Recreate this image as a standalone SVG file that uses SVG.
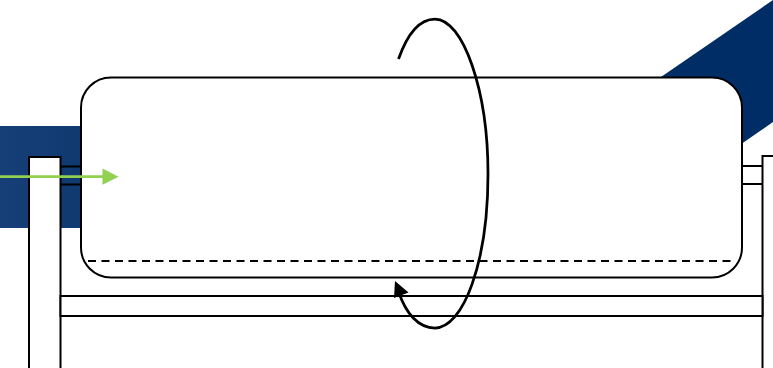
<svg xmlns="http://www.w3.org/2000/svg" width="773" height="368" viewBox="0 0 773 368">
  <defs>
    <linearGradient id="blueFade" x1="0" y1="0" x2="1" y2="0">
      <stop offset="0" stop-color="#163f77"/>
      <stop offset="1" stop-color="#0f3a70"/>
    </linearGradient>
    <style>
      .ln { fill: none; stroke: #000; stroke-width: 2; }
      .box { fill: #fff; stroke: #000; stroke-width: 2; }
    </style>
  </defs>
  <rect width="773" height="368" fill="#fff"/>
  <g id="background">
    <rect x="0" y="126" width="82" height="102" fill="url(#blueFade)"/>
    <polygon points="659.500,78 773,0 773,122 742,143.500 700,143.500" fill="#002d66"/>
  </g>
  <g id="frame">
    <rect id="post-left" class="box" x="29" y="157" width="31.500" height="220"/>
    <rect id="post-right" class="box" x="762.500" y="156" width="31" height="220"/>
    <rect id="bar" class="box" x="60.500" y="296" width="702" height="20"/>
    <path id="pipe-left" class="ln" d="M60.500,166.500H81M60.500,184.500H81"/>
    <path id="pipe-right" class="ln" d="M742,166H762.500M742,184H762.500"/>
  </g>
  <g id="tank">
    <rect class="box" x="81" y="77.500" width="661" height="200" rx="30" ry="30"/>
    <path class="ln" d="M88,261H735" stroke-dasharray="8 5.500"/>
  </g>
  <g id="connectors">
    <path class="ln" style="stroke-width:2.750" d="M398.500,59 C408,32 421,19 435,19 C463,19 488,90 488,174 C488,263 463,328 435,328 C418,328 406,313 399,293"/>
    <polygon points="395,281 408.500,292.500 394,298" fill="#000"/>
    <path d="M0,176.700H103" fill="none" stroke="#92d050" stroke-width="2.750"/>
    <polygon points="102.500,168.500 118.500,176.700 102.500,184.800" fill="#92d050"/>
  </g>
</svg>
